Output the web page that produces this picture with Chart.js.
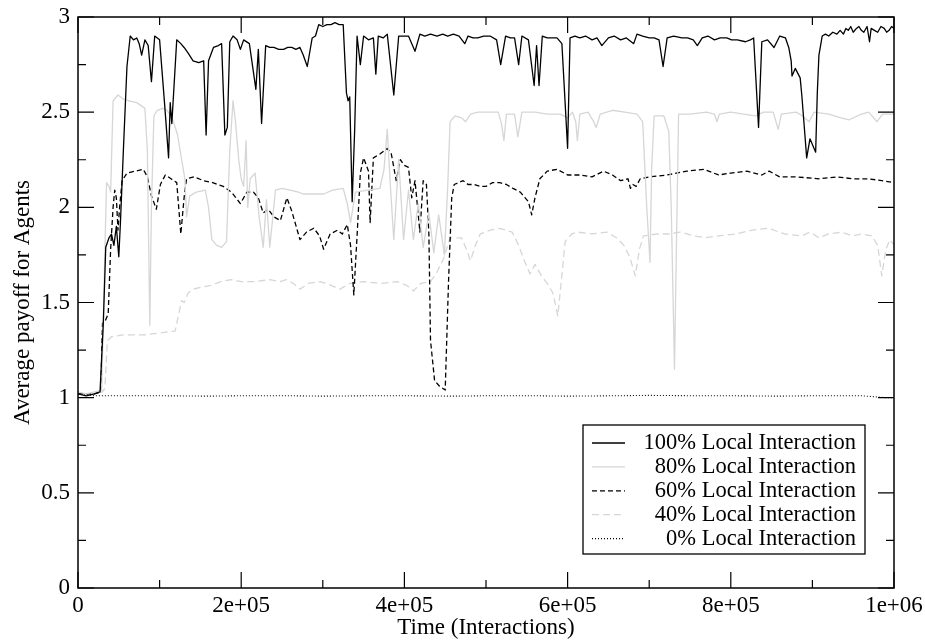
<!DOCTYPE html>
<html>
<head>
<meta charset="utf-8">
<script src="https://cdn.jsdelivr.net/npm/chart.js@4.4.1/dist/chart.umd.min.js"></script>
<style>
  body { margin: 0; background: #fff; }
</style>
</head>
<body>
<canvas id="myChart" width="925" height="642"></canvas>
<script>
// axis ticks
var xTicks = [0, 2e5, 4e5, 6e5, 8e5, 1e6];
var xTickLabels = ['0', '2e+05', '4e+05', '6e+05', '8e+05', '1e+06'];
var yTicks = [0, 0.5, 1, 1.5, 2, 2.5, 3];
var yTickLabels = ['0', '0.5', '1', '1.5', '2', '2.5', '3'];

var seriesNames = ['100% Local Interaction', '80% Local Interaction', '60% Local Interaction', '40% Local Interaction', '0% Local Interaction'];

// 100% local interaction
var t100 = [0, 10e3, 20e3, 27e3, 31e3, 34e3, 38e3, 41e3, 44e3, 47e3, 50e3, 52e3, 56e3, 60e3, 64e3, 68e3, 72e3, 75e3, 78e3, 82e3,
    86e3, 90e3, 94e3, 100e3, 106e3, 111e3, 113e3, 115e3, 121e3, 126e3, 130e3, 135e3, 141e3, 148e3, 154e3, 157e3, 160e3, 166e3, 172e3, 176e3, 180e3, 183e3,
    186e3, 190e3, 195e3, 199e3, 203e3, 210e3, 218e3, 221e3, 225e3, 230e3, 235e3, 240e3, 246e3, 252e3, 257e3, 262e3, 267e3, 272e3, 276e3, 281e3, 287e3, 291e3, 295e3, 300e3, 305e3,
    310e3, 315e3, 320e3, 325e3, 329e3, 331e3, 333e3, 336e3, 339e3, 342e3, 346e3, 350e3, 356e3, 362e3, 365e3, 368e3, 374e3, 379e3, 387e3, 393e3, 400e3, 405e3,
    413e3, 419e3, 425e3, 432e3, 440e3, 447e3, 453e3, 460e3, 467e3, 474e3, 478e3, 484e3, 490e3, 497e3, 505e3, 513e3, 518e3, 524e3, 530e3, 535e3, 540e3, 544e3, 552e3, 559e3, 562e3, 565e3, 569e3, 575e3, 580e3,
    587e3, 593e3, 600e3, 603e3, 609e3, 615e3, 622e3, 630e3, 636e3, 642e3, 650e3, 657e3, 665e3, 672e3, 681e3, 685e3, 692e3, 700e3, 706e3, 712e3, 717e3, 722e3, 730e3, 740e3, 747e3, 754e3, 759e3, 765e3, 772e3, 780e3,
    787e3, 795e3, 801e3, 808e3, 818e3, 824e3, 828e3, 834e3, 838e3, 845e3, 853e3, 860e3, 867e3, 871e3, 874e3, 875e3, 879e3, 885e3, 887e3, 893e3, 897e3, 900e3,
    904e3, 906e3, 908e3, 912e3, 916e3, 920e3, 925e3, 930e3, 934e3, 938e3, 941e3, 944e3, 947e3, 950e3, 954e3, 957e3, 960e3, 963e3, 967e3, 970e3, 972e3, 976e3, 980e3, 984e3, 988e3, 991e3, 994e3, 997e3, 1000e3];
var v100 = [1.02, 1.01, 1.02, 1.03, 1.39, 1.79, 1.84, 1.86, 1.80, 1.90, 1.74, 1.92, 2.34, 2.74, 2.90, 2.88, 2.89, 2.86, 2.80, 2.88,
    2.85, 2.66, 2.90, 2.88, 2.55, 2.26, 2.55, 2.44, 2.88, 2.86, 2.84, 2.81, 2.77, 2.76, 2.77, 2.38, 2.77, 2.84, 2.85, 2.86, 2.38, 2.42,
    2.87, 2.90, 2.88, 2.83, 2.88, 2.86, 2.62, 2.83, 2.44, 2.85, 2.84, 2.84, 2.83, 2.83, 2.84, 2.84, 2.83, 2.84, 2.80, 2.74, 2.89, 2.90, 2.96, 2.95, 2.96,
    2.96, 2.97, 2.96, 2.96, 2.60, 2.56, 2.58, 2.03, 2.40, 2.90, 2.75, 2.90, 2.88, 2.89, 2.70, 2.90, 2.89, 2.91, 2.59, 2.90, 2.90, 2.90,
    2.82, 2.91, 2.90, 2.91, 2.90, 2.91, 2.90, 2.91, 2.90, 2.86, 2.90, 2.89, 2.89, 2.90, 2.90, 2.88, 2.75, 2.90, 2.89, 2.89, 2.75, 2.90, 2.88, 2.64, 2.85, 2.64, 2.90, 2.89, 2.89,
    2.89, 2.86, 2.31, 2.89, 2.90, 2.89, 2.90, 2.88, 2.89, 2.85, 2.89, 2.90, 2.88, 2.89, 2.86, 2.91, 2.90, 2.89, 2.89, 2.88, 2.74, 2.89, 2.90, 2.89, 2.89, 2.88, 2.85, 2.89, 2.90, 2.88,
    2.89, 2.89, 2.88, 2.88, 2.87, 2.88, 2.89, 2.42, 2.87, 2.88, 2.84, 2.90, 2.89, 2.84, 2.77, 2.69, 2.73, 2.68, 2.59, 2.26, 2.36, 2.33,
    2.29, 2.60, 2.80, 2.90, 2.91, 2.90, 2.92, 2.91, 2.93, 2.91, 2.94, 2.93, 2.95, 2.92, 2.94, 2.95, 2.93, 2.92, 2.95, 2.87, 2.94, 2.93, 2.92, 2.95, 2.94, 2.92, 2.93, 2.95, 2.94];

// 80% local interaction
var t80 = [0, 10e3, 20e3, 29e3, 31e3, 33e3, 35e3, 38e3, 40e3, 43e3, 49e3, 55e3, 62e3, 72e3, 82e3, 85e3, 88e3, 90e3, 93e3, 97e3,
    104e3, 109e3, 114e3, 117e3, 122e3, 127e3, 131e3, 133e3, 137e3, 145e3, 156e3, 160e3, 164e3, 170e3, 176e3, 182e3, 186e3, 190e3, 193e3, 197e3,
    200e3, 203e3, 206e3, 208e3, 211e3, 217e3, 222e3, 227e3, 231e3, 235e3, 242e3, 250e3, 260e3, 270e3, 276e3, 290e3, 301e3, 312e3, 325e3, 330e3,
    334e3, 340e3, 355e3, 370e3, 375e3, 379e3, 383e3, 387e3, 393e3, 399e3, 405e3, 411e3, 417e3, 423e3, 430e3, 436e3, 442e3, 449e3, 453e3, 456e3,
    462e3, 470e3, 475e3, 481e3, 490e3, 501e3, 515e3, 519e3, 522e3, 525e3, 535e3, 539e3, 544e3, 560e3, 575e3, 591e3, 600e3, 606e3, 610e3, 612e3,
    615e3, 625e3, 632e3, 635e3, 640e3, 655e3, 670e3, 685e3, 692e3, 697e3, 701e3, 703e3, 706e3, 718e3, 724e3, 727e3, 731e3, 733e3, 736e3, 750e3,
    770e3, 780e3, 783e3, 786e3, 800e3, 830e3, 840e3, 852e3, 858e3, 862e3, 880e3, 888e3, 896e3, 902e3, 920e3, 935e3, 945e3, 960e3, 969e3, 979e3,
    986e3, 1000e3];
var v80 = [1.03, 1.02, 1.03, 1.04, 1.40, 1.78, 2.13, 2.11, 2.08, 2.56, 2.59, 2.57, 2.56, 2.55, 2.52, 2.30, 1.38, 2.00, 2.48, 2.51,
    2.52, 2.51, 2.48, 2.45, 2.38, 2.25, 2.15, 1.95, 2.06, 2.08, 2.09, 2.00, 1.83, 1.80, 1.79, 1.82, 2.30, 2.56, 2.45, 2.25,
    2.15, 2.11, 2.35, 2.00, 2.15, 2.18, 1.95, 1.79, 2.04, 1.79, 2.09, 2.10, 2.09, 2.08, 2.07, 2.07, 2.07, 2.09, 2.10, 2.02,
    1.92, 2.08, 2.09, 2.10, 2.20, 2.41, 2.10, 1.83, 2.25, 1.83, 2.09, 1.83, 2.02, 1.79, 1.97, 1.76, 1.96, 1.75, 2.10, 2.45,
    2.48, 2.47, 2.45, 2.49, 2.50, 2.50, 2.50, 2.44, 2.35, 2.49, 2.49, 2.37, 2.50, 2.50, 2.49, 2.49, 2.47, 2.50, 2.45, 2.35,
    2.49, 2.50, 2.45, 2.42, 2.49, 2.51, 2.50, 2.49, 2.45, 2.00, 1.71, 2.20, 2.48, 2.48, 2.40, 2.00, 1.15, 1.70, 2.49, 2.49,
    2.50, 2.49, 2.45, 2.49, 2.50, 2.48, 2.50, 2.50, 2.41, 2.49, 2.50, 2.48, 2.45, 2.50, 2.49, 2.47, 2.46, 2.49, 2.50, 2.45,
    2.49, 2.49];

// 60% local interaction
var t60 = [0, 10e3, 20e3, 28e3, 30e3, 33e3, 37e3, 40e3, 43e3, 45e3, 47e3, 49e3, 51e3, 54e3, 60e3, 70e3, 80e3, 85e3, 90e3, 96e3,
    101e3, 107e3, 114e3, 121e3, 126e3, 130e3, 133e3, 142e3, 154e3, 165e3, 178e3, 188e3, 199e3, 207e3, 215e3, 221e3, 227e3, 233e3, 240e3, 248e3,
    256e3, 262e3, 272e3, 280e3, 289e3, 296e3, 301e3, 309e3, 318e3, 324e3, 330e3, 334e3, 338e3, 342e3, 346e3, 350e3, 356e3, 358e3, 362e3, 370e3,
    379e3, 384e3, 390e3, 395e3, 400e3, 405e3, 409e3, 413e3, 419e3, 423e3, 427e3, 430e3, 432e3, 437e3, 443e3, 450e3, 454e3, 458e3, 461e3, 472e3,
    478e3, 486e3, 493e3, 500e3, 508e3, 517e3, 525e3, 533e3, 542e3, 548e3, 552e3, 556e3, 560e3, 566e3, 575e3, 587e3, 600e3, 616e3, 630e3, 644e3,
    655e3, 665e3, 674e3, 677e3, 680e3, 684e3, 689e3, 700e3, 722e3, 746e3, 767e3, 785e3, 800e3, 820e3, 838e3, 847e3, 860e3, 880e3, 908e3, 930e3,
    950e3, 969e3, 985e3, 1000e3];
var v60 = [1.02, 1.02, 1.02, 1.03, 1.39, 1.40, 1.44, 1.78, 2.00, 2.09, 2.05, 1.88, 2.00, 2.14, 2.18, 2.19, 2.20, 2.16, 2.06, 1.99,
    2.12, 2.17, 2.15, 2.13, 1.86, 2.05, 2.15, 2.16, 2.14, 2.13, 2.11, 2.08, 2.02, 2.08, 2.08, 2.05, 1.97, 1.99, 1.95, 1.93,
    2.05, 1.98, 1.83, 1.87, 1.89, 1.85, 1.78, 1.86, 1.88, 1.86, 1.91, 1.80, 1.54, 1.85, 2.18, 2.26, 2.19, 1.92, 2.26, 2.28,
    2.31, 2.28, 2.14, 2.25, 2.22, 2.21, 2.05, 2.14, 1.87, 2.14, 2.12, 1.86, 1.30, 1.09, 1.06, 1.04, 1.60, 2.05, 2.12, 2.14,
    2.12, 2.12, 2.11, 2.11, 2.13, 2.13, 2.12, 2.10, 2.08, 2.05, 2.03, 1.96, 2.05, 2.15, 2.19, 2.20, 2.17, 2.17, 2.16, 2.19,
    2.17, 2.14, 2.15, 2.10, 2.12, 2.11, 2.15, 2.16, 2.17, 2.19, 2.20, 2.17, 2.18, 2.19, 2.17, 2.19, 2.16, 2.16, 2.15, 2.16,
    2.15, 2.15, 2.14, 2.13];

// 40% local interaction
var t40 = [0, 10e3, 20e3, 30e3, 33e3, 36e3, 41e3, 55e3, 70e3, 82e3, 100e3, 119e3, 124e3, 127e3, 130e3, 135e3, 141e3, 150e3, 163e3, 175e3,
    188e3, 200e3, 217e3, 235e3, 248e3, 255e3, 264e3, 272e3, 282e3, 297e3, 310e3, 321e3, 333e3, 350e3, 370e3, 391e3, 403e3, 411e3, 420e3, 432e3,
    440e3, 448e3, 456e3, 470e3, 476e3, 481e3, 487e3, 493e3, 505e3, 517e3, 532e3, 540e3, 546e3, 554e3, 560e3, 568e3, 575e3, 582e3, 588e3, 592e3,
    597e3, 605e3, 612e3, 630e3, 648e3, 660e3, 669e3, 676e3, 683e3, 688e3, 693e3, 710e3, 725e3, 738e3, 755e3, 769e3, 785e3, 806e3, 826e3, 846e3,
    866e3, 887e3, 897e3, 908e3, 920e3, 935e3, 949e3, 960e3, 973e3, 980e3, 985e3, 990e3, 995e3, 1000e3];
var v40 = [1.02, 1.02, 1.02, 1.03, 1.05, 1.30, 1.32, 1.33, 1.33, 1.33, 1.34, 1.35, 1.45, 1.51, 1.50, 1.55, 1.57, 1.58, 1.59, 1.61,
    1.62, 1.61, 1.61, 1.62, 1.61, 1.62, 1.60, 1.57, 1.60, 1.61, 1.59, 1.57, 1.60, 1.61, 1.60, 1.61, 1.59, 1.56, 1.60, 1.61,
    1.66, 1.73, 1.84, 1.84, 1.78, 1.72, 1.80, 1.86, 1.88, 1.89, 1.87, 1.80, 1.73, 1.65, 1.70, 1.64, 1.60, 1.55, 1.43, 1.60,
    1.82, 1.86, 1.87, 1.86, 1.87, 1.84, 1.80, 1.74, 1.64, 1.78, 1.85, 1.86, 1.86, 1.87, 1.85, 1.84, 1.85, 1.86, 1.88, 1.89,
    1.86, 1.85, 1.87, 1.84, 1.86, 1.87, 1.85, 1.86, 1.85, 1.80, 1.64, 1.78, 1.83, 1.80];

// 0% local interaction
var t0 = [0, 20e3, 60e3, 100e3, 160e3, 200e3, 260e3, 300e3, 360e3, 400e3, 460e3, 500e3, 560e3, 600e3, 660e3, 700e3, 760e3, 800e3, 860e3, 900e3, 960e3, 990e3, 1000e3];
var v0 = [1.02, 1.01, 1.01, 1.01, 1.008, 1.01, 1.01, 1.008, 1.01, 1.01, 1.008, 1.01, 1.01, 1.008, 1.01, 1.012, 1.01, 1.01, 1.008, 1.01, 1.01, 1.0, 1.0];

function pts(t, v) {
    return t.map(function (x, i) { return { x: x, y: v[i] }; });
}

var font = { family: 'Liberation Serif', size: 23 };

var frameTicks = {
    id: 'frameTicks',
    afterDatasetsDraw: function (chart) {
        var ctx = chart.ctx, a = chart.chartArea, x = chart.scales.x, y = chart.scales.y;
        ctx.save();
        ctx.strokeStyle = '#000';
        ctx.lineWidth = 1.2;
        ctx.beginPath();
        // major + minor ticks, drawn inward on all four sides
        for (var i = 0; i < xTicks.length; i++) {
            var px = x.getPixelForValue(xTicks[i]);
            ctx.moveTo(px, a.bottom); ctx.lineTo(px, a.bottom - 16);
            ctx.moveTo(px, a.top); ctx.lineTo(px, a.top + 16);
            if (i < xTicks.length - 1) {
                var pm = x.getPixelForValue((xTicks[i] + xTicks[i + 1]) / 2);
                ctx.moveTo(pm, a.bottom); ctx.lineTo(pm, a.bottom - 8);
                ctx.moveTo(pm, a.top); ctx.lineTo(pm, a.top + 8);
            }
        }
        for (var j = 0; j < yTicks.length; j++) {
            var py = y.getPixelForValue(yTicks[j]);
            ctx.moveTo(a.left, py); ctx.lineTo(a.left + 16, py);
            ctx.moveTo(a.right, py); ctx.lineTo(a.right - 16, py);
            if (j < yTicks.length - 1) {
                var qm = y.getPixelForValue((yTicks[j] + yTicks[j + 1]) / 2);
                ctx.moveTo(a.left, qm); ctx.lineTo(a.left + 8, qm);
                ctx.moveTo(a.right, qm); ctx.lineTo(a.right - 8, qm);
            }
        }
        ctx.stroke();
        ctx.lineWidth = 1.5;
        ctx.strokeRect(a.left, a.top, a.right - a.left, a.bottom - a.top);

        // legend box, lower right
        var bx = a.right - 311, by = a.bottom - 163, bw = 282, bh = 129;
        ctx.fillStyle = '#fff';
        ctx.fillRect(bx, by, bw, bh);
        ctx.lineWidth = 1.3;
        ctx.strokeRect(bx, by, bw, bh);
        ctx.font = '22.5px "Liberation Serif"';
        ctx.textAlign = 'right';
        ctx.textBaseline = 'middle';
        chart.data.datasets.forEach(function (ds, k) {
            var ry = by + 18 + k * 23.9;
            ctx.save();
            ctx.strokeStyle = ds.borderColor;
            ctx.lineWidth = ds.borderWidth;
            ctx.setLineDash(ds.borderDash || []);
            ctx.beginPath();
            ctx.moveTo(bx + 9, ry);
            ctx.lineTo(bx + 42, ry);
            ctx.stroke();
            ctx.restore();
            ctx.fillStyle = '#000';
            ctx.fillText(ds.label, bx + bw - 9, ry);
        });
        ctx.restore();
    }
};

var ctx = document.getElementById('myChart').getContext('2d');
var myChart = new Chart(ctx, {
    type: 'line',
    data: {
        datasets: [{
            label: seriesNames[0],
            data: pts(t100, v100),
            borderColor: '#000000',
            borderWidth: 1.3
        }, {
            label: seriesNames[1],
            data: pts(t80, v80),
            borderColor: '#d6d6d6',
            borderWidth: 1.3
        }, {
            label: seriesNames[2],
            data: pts(t60, v60),
            borderColor: '#000000',
            borderWidth: 1.3,
            borderDash: [5, 3]
        }, {
            label: seriesNames[3],
            data: pts(t40, v40),
            borderColor: '#d6d6d6',
            borderWidth: 1.3,
            borderDash: [7, 4]
        }, {
            label: seriesNames[4],
            data: pts(t0, v0),
            borderColor: '#000000',
            borderWidth: 1.1,
            borderDash: [1, 2]
        }]
    },
    options: {
        responsive: false,
        animation: false,
        devicePixelRatio: 1,
        layout: { padding: { top: 17, right: 31, bottom: 0, left: 0 } },
        elements: {
            point: { radius: 0 },
            line: { tension: 0, borderJoinStyle: 'round', fill: false }
        },
        plugins: {
            legend: { display: false },
            tooltip: { enabled: false }
        },
        scales: {
            x: {
                type: 'linear',
                min: 0,
                max: 1e6,
                afterFit: function (s) { s.height = 54; s.paddingLeft = 0; s.paddingRight = 0; },
                afterBuildTicks: function (s) { s.ticks = xTicks.map(function (v) { return { value: v }; }); },
                grid: { display: false, drawTicks: false },
                border: { display: false },
                ticks: {
                    autoSkip: false,
                    maxRotation: 0,
                    padding: 4,
                    color: '#000',
                    font: font,
                    callback: function (v, i) { return xTickLabels[i]; }
                },
                title: { display: true, text: 'Time (Interactions)', color: '#000', font: font, padding: { top: 0, bottom: 0 } }
            },
            y: {
                min: 0,
                max: 3,
                afterFit: function (s) { s.width = 78; s.paddingTop = 0; s.paddingBottom = 0; },
                afterBuildTicks: function (s) { s.ticks = yTicks.map(function (v) { return { value: v }; }); },
                grid: { display: false, drawTicks: false },
                border: { display: false },
                ticks: {
                    autoSkip: false,
                    padding: 8,
                    color: '#000',
                    font: font,
                    callback: function (v, i) { return yTickLabels[i]; }
                },
                title: { display: true, text: 'Average payoff for Agents', color: '#000', font: font, padding: { top: 9, bottom: 0 } }
            }
        }
    },
    plugins: [frameTicks]
});
</script>
</body>
</html>
